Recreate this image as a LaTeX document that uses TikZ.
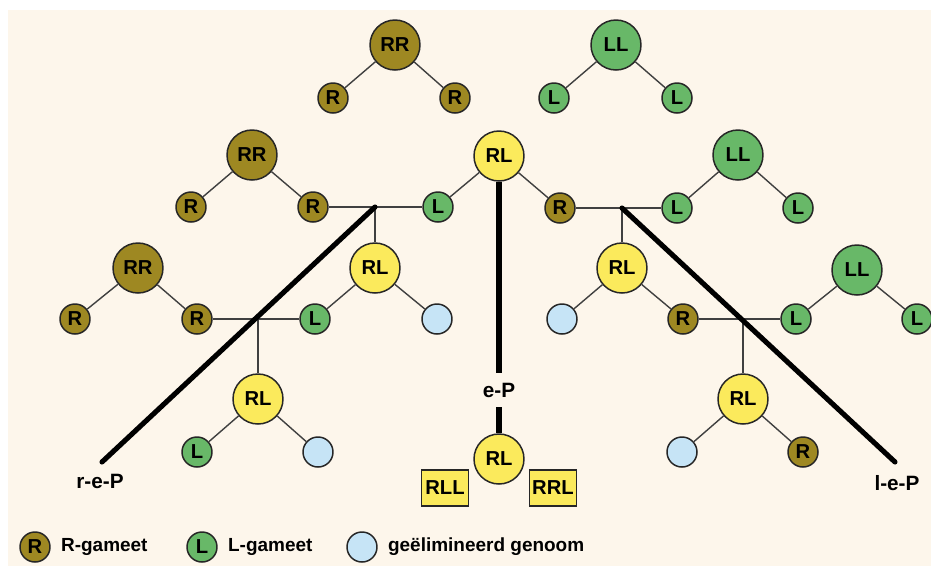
\documentclass[tikz,border=0pt]{standalone}
\usepackage{fontspec}
\setmainfont{Liberation Sans}
\usepackage{tikz}
\usetikzlibrary{positioning}

\definecolor{cream}{HTML}{FDF6EB}
\definecolor{gold}{HTML}{9E8822}
\definecolor{leaf}{HTML}{68B868}
\definecolor{lemon}{HTML}{FBEA5C}
\definecolor{sky}{HTML}{C6E4F6}

\tikzset{
    gamete/.style={circle, draw=black!85, line width=0.85pt, inner sep=0pt,
        minimum size=0.6cm, font=\fontsize{11.5}{13}\selectfont\bfseries},
    zygote/.style={gamete, minimum size=1cm},
    rg/.style={gamete, fill=gold},
    lg/.style={gamete, fill=leaf},
    xg/.style={gamete, fill=sky},
    rr/.style={zygote, fill=gold},
    ll/.style={zygote, fill=leaf},
    rl/.style={zygote, fill=lemon},
    triplo/.style={draw=black!85, line width=0.85pt, fill=lemon, minimum width=0.94cm,
        minimum height=0.72cm, inner sep=0pt, font=\fontsize{11.5}{13}\selectfont\bfseries},
    link/.style={draw=black!75, line width=0.8pt},
    ploidy/.style={draw=black, line width=2.9pt, line cap=round},
    tag/.style={inner sep=0pt, font=\fontsize{11.8}{13}\selectfont\bfseries},
    key/.style={inner sep=0pt, font=\fontsize{10.8}{13}\selectfont\bfseries}
}

\begin{document}
\begin{tikzpicture}[x=0.02cm, y=-0.02cm]
\useasboundingbox (0,0) rectangle (931,566);
\fill[cream] (8,10) rectangle (931,566);

% top row: pure parents
\node[rr] (rrA) at (395,45) {RR};
\node[rg] (rA1) at (333,98) {R};
\node[rg] (rA2) at (455,98) {R};
\node[ll] (llA) at (616,45) {LL};
\node[lg] (lA1) at (554,98) {L};
\node[lg] (lA2) at (677,98) {L};
\draw[link] (rrA) -- (rA1) (rrA) -- (rA2);
\draw[link] (llA) -- (lA1) (llA) -- (lA2);

% hybrid in the middle
\node[rl] (rlC) at (499,156) {RL};
\node[lg] (lB) at (438,207) {L};
\node[rg] (rC) at (560,208) {R};
\draw[link] (rlC) -- (lB) (rlC) -- (rC);

% second row, left
\node[rr] (rrB) at (252,155) {RR};
\node[rg] (rB1) at (191,207) {R};
\node[rg] (rB2) at (313,207) {R};
\coordinate (jB) at (375,207);
\draw[link] (rrB) -- (rB1) (rrB) -- (rB2);
\draw[link] (rB2) -- (lB);
\node[rl] (rlB) at (375,268) {RL};
\draw[link] (jB) -- (rlB);

% third row, left
\node[rr] (rrD) at (138,268) {RR};
\node[rg] (rD1) at (75,319) {R};
\node[rg] (rD2) at (197,319) {R};
\node[lg] (lD) at (315,319) {L};
\node[xg] (xD) at (437,319) {};
\coordinate (jD) at (258,319);
\draw[link] (rrD) -- (rD1) (rrD) -- (rD2);
\draw[link] (rlB) -- (lD) (rlB) -- (xD);
\draw[link] (rD2) -- (lD);
\node[rl] (rlE) at (258,399) {RL};
\node[lg] (lE) at (197,452) {L};
\node[xg] (xE) at (318,452) {};
\draw[link] (jD) -- (rlE);
\draw[link] (rlE) -- (lE) (rlE) -- (xE);

% second row, right
\node[ll] (llC) at (738,155) {LL};
\node[lg] (lC1) at (677,208) {L};
\node[lg] (lC2) at (798,208) {L};
\coordinate (jC) at (622,208);
\draw[link] (llC) -- (lC1) (llC) -- (lC2);
\draw[link] (rC) -- (lC1);
\node[rl] (rlF) at (622,268) {RL};
\draw[link] (jC) -- (rlF);

% third row, right
\node[xg] (xF) at (562,319) {};
\node[rg] (rF) at (683,319) {R};
\node[ll] (llG) at (857,270) {LL};
\node[lg] (lG1) at (796,319) {L};
\node[lg] (lG2) at (917,319) {L};
\coordinate (jG) at (743,319);
\draw[link] (rlF) -- (xF) (rlF) -- (rF);
\draw[link] (llG) -- (lG1) (llG) -- (lG2);
\draw[link] (rF) -- (lG1);
\node[rl] (rlH) at (743,399) {RL};
\node[xg] (xH) at (682,452) {};
\node[rg] (rH) at (803,452) {R};
\draw[link] (jG) -- (rlH);
\draw[link] (rlH) -- (xH) (rlH) -- (rH);

% polyploid lines
\coordinate (repEnd) at (102,462);
\coordinate (lepEnd) at (895,462);
\node[tag] (rep) at (100,481) {r-e-P};
\node[tag] (lep) at (897,483) {l-e-P};
\draw[ploidy] (jB) -- (repEnd);
\draw[ploidy] (jC) -- (lepEnd);
\node[tag, inner sep=0.19cm] (ep) at (499,390) {e-P};
\node[rl] (rlZ) at (499,459) {RL};
\draw[ploidy, line cap=butt] (rlC) -- (ep);
\draw[ploidy, line cap=butt] (ep) -- (rlZ);
\node[triplo] (rll) at (445,488) {RLL};
\node[triplo] (rrl) at (553,488) {RRL};

% legend
\node[rg] (keyR) at (35,547) {R};
\node[key, right=0.2cm of keyR] (txtR) {R-gameet};
\node[lg] (keyL) at (202,547) {L};
\node[key, right=0.2cm of keyL] (txtL) {L-gameet};
\node[xg] (keyX) at (362,547) {};
\node[key, right=0.2cm of keyX] (txtX) {geëlimineerd genoom};
\end{tikzpicture}
\end{document}
